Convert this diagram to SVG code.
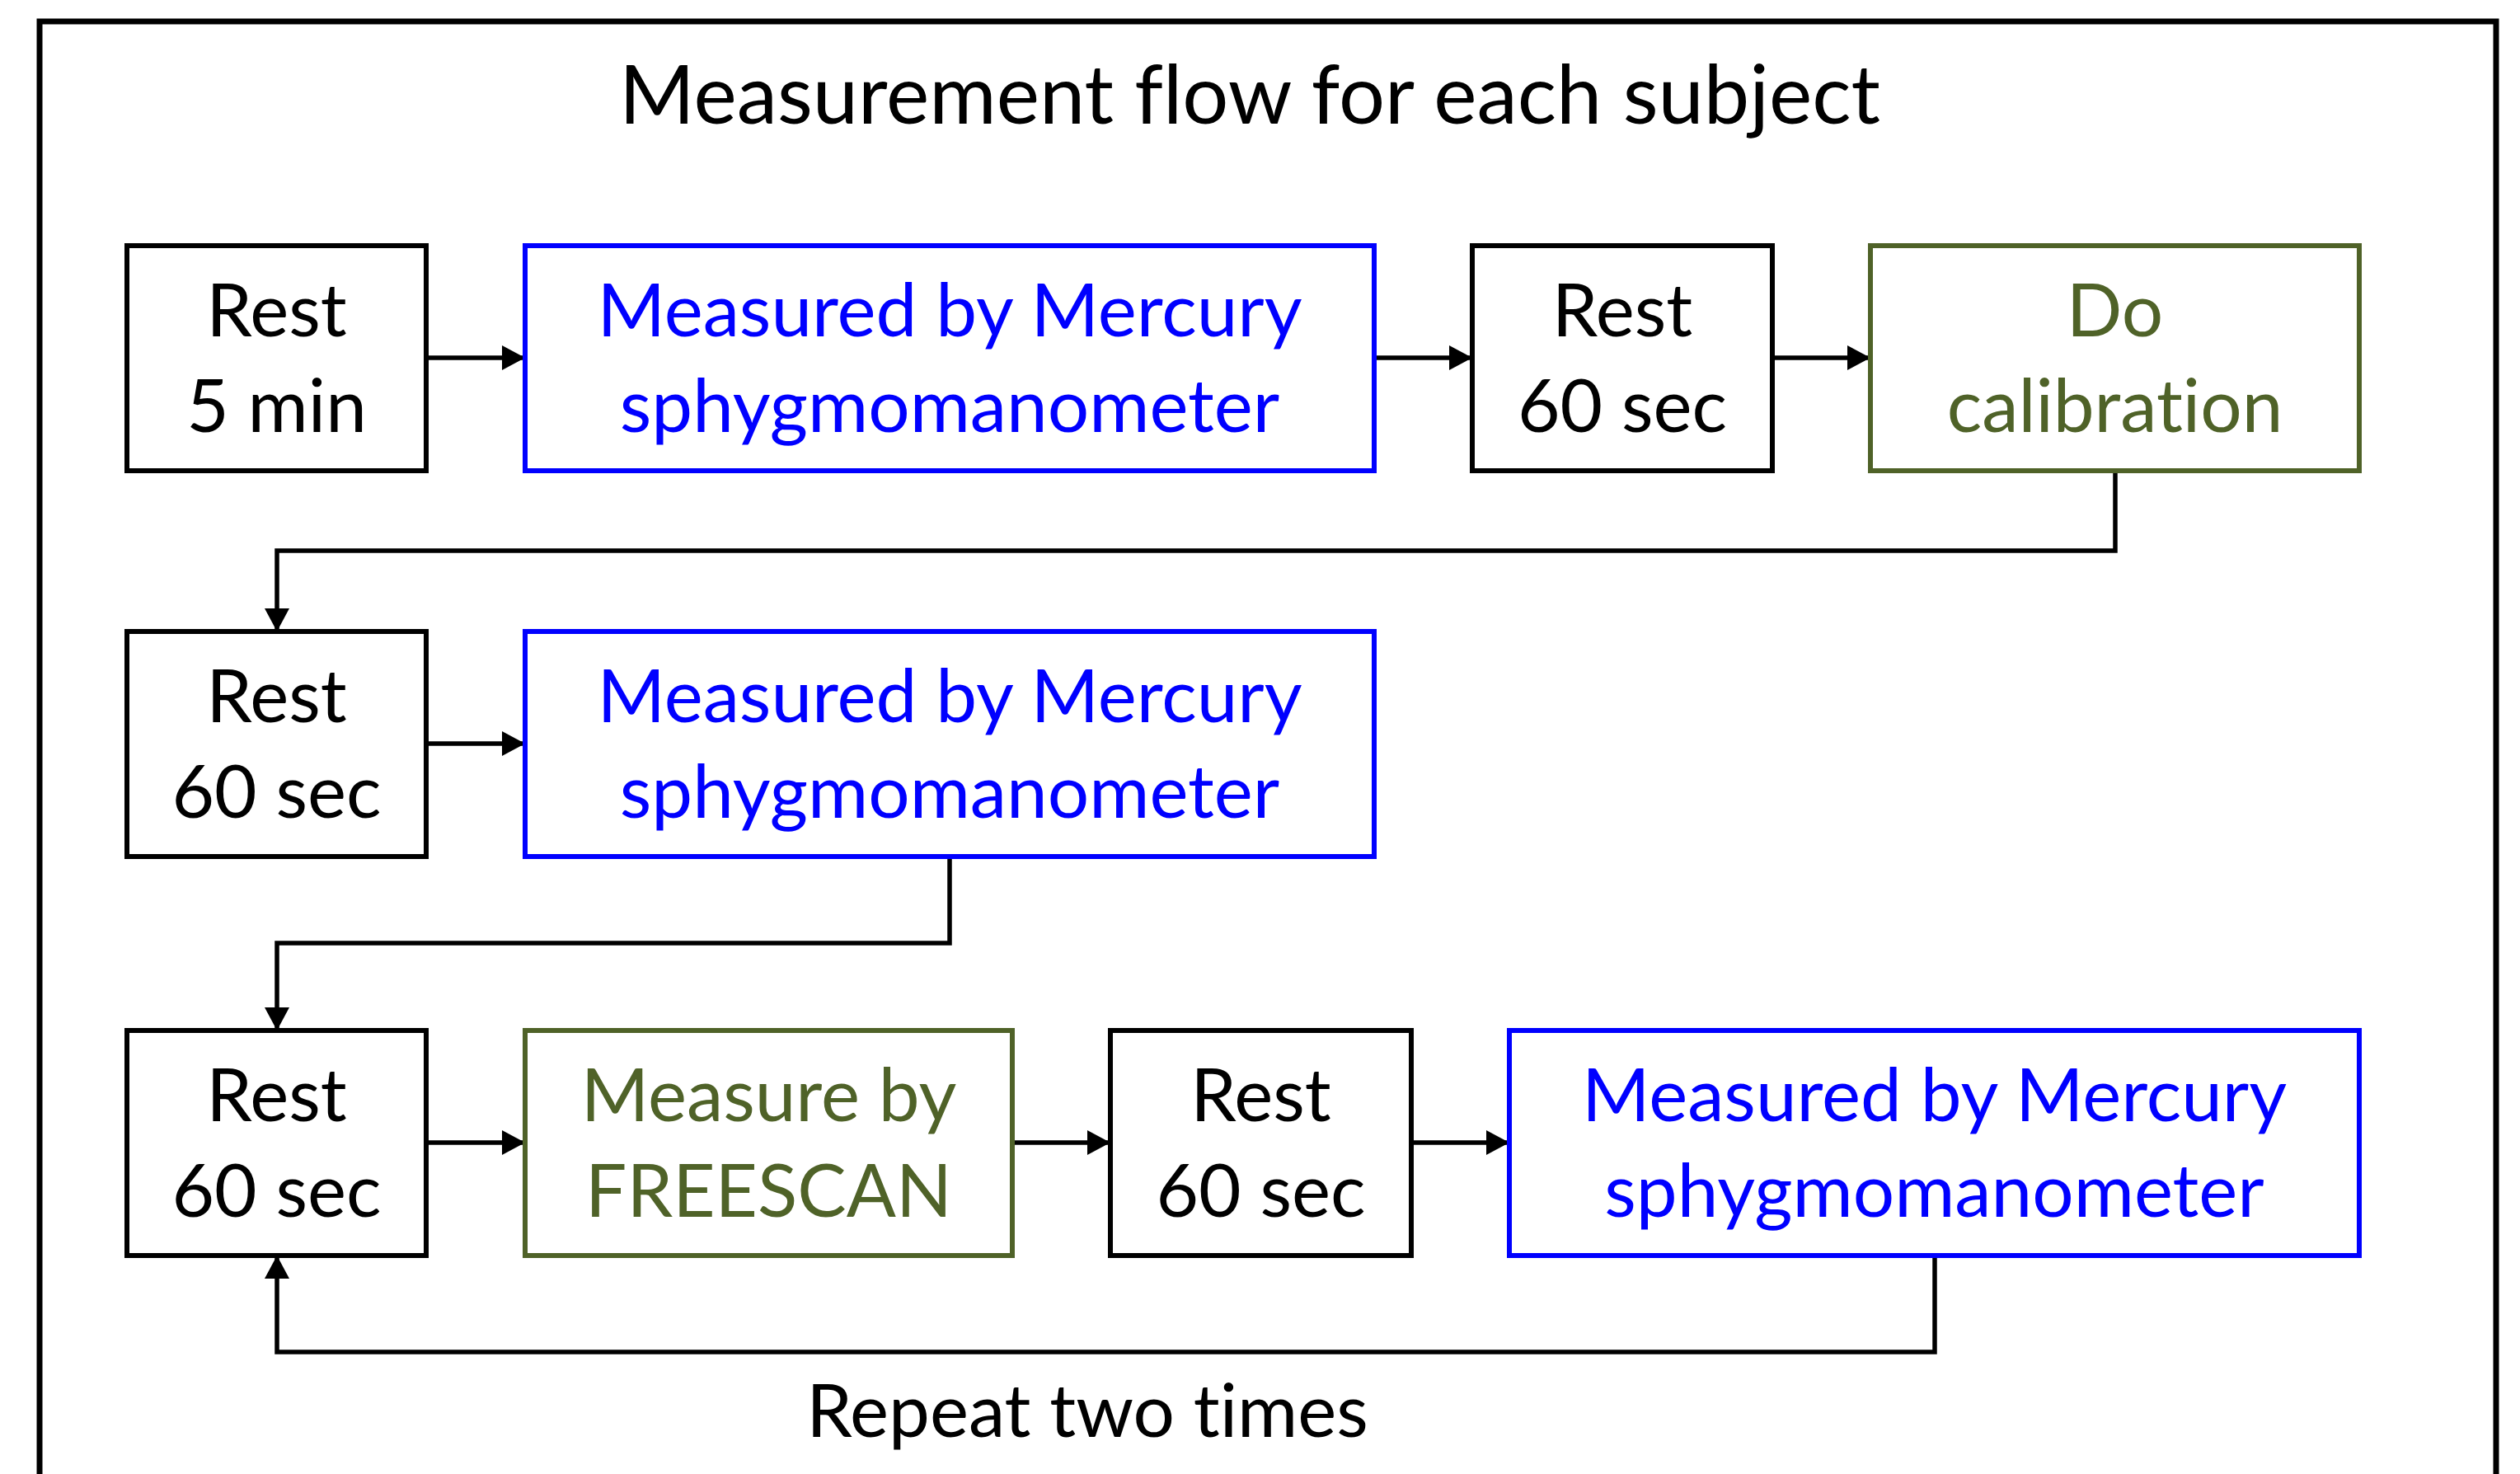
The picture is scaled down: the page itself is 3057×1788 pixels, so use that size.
<svg xmlns="http://www.w3.org/2000/svg" width="3057" height="1788" viewBox="0 0 3057 1788">
  <style>
    .box { fill: #ffffff; stroke-width: 6; }
    .k { stroke: #000000; }
    .b { stroke: #0000ff; }
    .g { stroke: #4f6228; }
    text { font-family: Lato, "Open Sans", "Liberation Sans", sans-serif; text-anchor: middle; font-variant-ligatures: none; }
    .t { font-size: 89px; }
    .tk { fill: #000000; }
    .tb { fill: #0000ff; }
    .tg { fill: #4f6228; }
    .conn { fill: none; stroke: #000000; stroke-width: 5.5; stroke-linejoin: miter; marker-end: url(#arr); }
  </style>
  <defs>
    <marker id="arr" markerUnits="userSpaceOnUse" markerWidth="28" markerHeight="30" refX="28" refY="15" orient="auto">
      <path d="M0,0 L28,15 L0,30 Z" fill="#000000"/>
    </marker>
  </defs>
  <rect width="3057" height="1788" fill="#ffffff"/>
  <rect id="frame" x="48" y="26" width="2980" height="1800" fill="none" stroke="#000000" stroke-width="7"/>
  <text id="title" x="1516" y="150" style="font-size:99px" class="tk">Measurement flow for each subject</text>

  <g id="connectors">
    <line class="conn" x1="517" y1="434" x2="637" y2="434"/>
    <line class="conn" x1="1667" y1="434" x2="1786" y2="434"/>
    <line class="conn" x1="2150" y1="434" x2="2269" y2="434"/>
    <polyline class="conn" points="2566,571 2566,668 336,668 336,766"/>
    <line class="conn" x1="517" y1="902" x2="637" y2="902"/>
    <polyline class="conn" points="1152,1039 1152,1144 336,1144 336,1250"/>
    <line class="conn" x1="517" y1="1386" x2="637" y2="1386"/>
    <line class="conn" x1="1228" y1="1386" x2="1347" y2="1386"/>
    <line class="conn" x1="1712" y1="1386" x2="1831" y2="1386"/>
    <polyline class="conn" points="2347,1523 2347,1640 336,1640 336,1523"/>
  </g>

  <g id="rest1">
    <rect class="box k" x="154" y="298" width="363" height="273"/>
    <text class="t tk" x="335.5" y="408">Rest</text>
    <text class="t tk" x="335.5" y="524">5 min</text>
  </g>
  <g id="mercury1">
    <rect class="box b" x="637" y="298" width="1030" height="273"/>
    <text class="t tb" x="1152" y="408">Measured by Mercury</text>
    <text class="t tb" x="1152" y="524">sphygmomanometer</text>
  </g>
  <g id="rest2">
    <rect class="box k" x="1786" y="298" width="364" height="273"/>
    <text class="t tk" x="1968" y="408">Rest</text>
    <text class="t tk" x="1968" y="524">60 sec</text>
  </g>
  <g id="calibration">
    <rect class="box g" x="2269" y="298" width="593" height="273"/>
    <text class="t tg" x="2565.5" y="408">Do</text>
    <text class="t tg" x="2565.5" y="524">calibration</text>
  </g>

  <g id="rest3">
    <rect class="box k" x="154" y="766" width="363" height="273"/>
    <text class="t tk" x="335.5" y="876">Rest</text>
    <text class="t tk" x="335.5" y="992">60 sec</text>
  </g>
  <g id="mercury2">
    <rect class="box b" x="637" y="766" width="1030" height="273"/>
    <text class="t tb" x="1152" y="876">Measured by Mercury</text>
    <text class="t tb" x="1152" y="992">sphygmomanometer</text>
  </g>

  <g id="rest4">
    <rect class="box k" x="154" y="1250" width="363" height="273"/>
    <text class="t tk" x="335.5" y="1360">Rest</text>
    <text class="t tk" x="335.5" y="1476">60 sec</text>
  </g>
  <g id="freescan">
    <rect class="box g" x="637" y="1250" width="591" height="273"/>
    <text class="t tg" x="932.5" y="1360">Measure by</text>
    <text class="t tg" x="932.5" y="1476">FREESCAN</text>
  </g>
  <g id="rest5">
    <rect class="box k" x="1347" y="1250" width="365" height="273"/>
    <text class="t tk" x="1529.5" y="1360">Rest</text>
    <text class="t tk" x="1529.5" y="1476">60 sec</text>
  </g>
  <g id="mercury3">
    <rect class="box b" x="1831" y="1250" width="1031" height="273"/>
    <text class="t tb" x="2346.5" y="1360">Measured by Mercury</text>
    <text class="t tb" x="2346.5" y="1476">sphygmomanometer</text>
  </g>

  <text id="repeat" x="1319" y="1743" style="font-size:89px" class="tk">Repeat two times</text>
</svg>
